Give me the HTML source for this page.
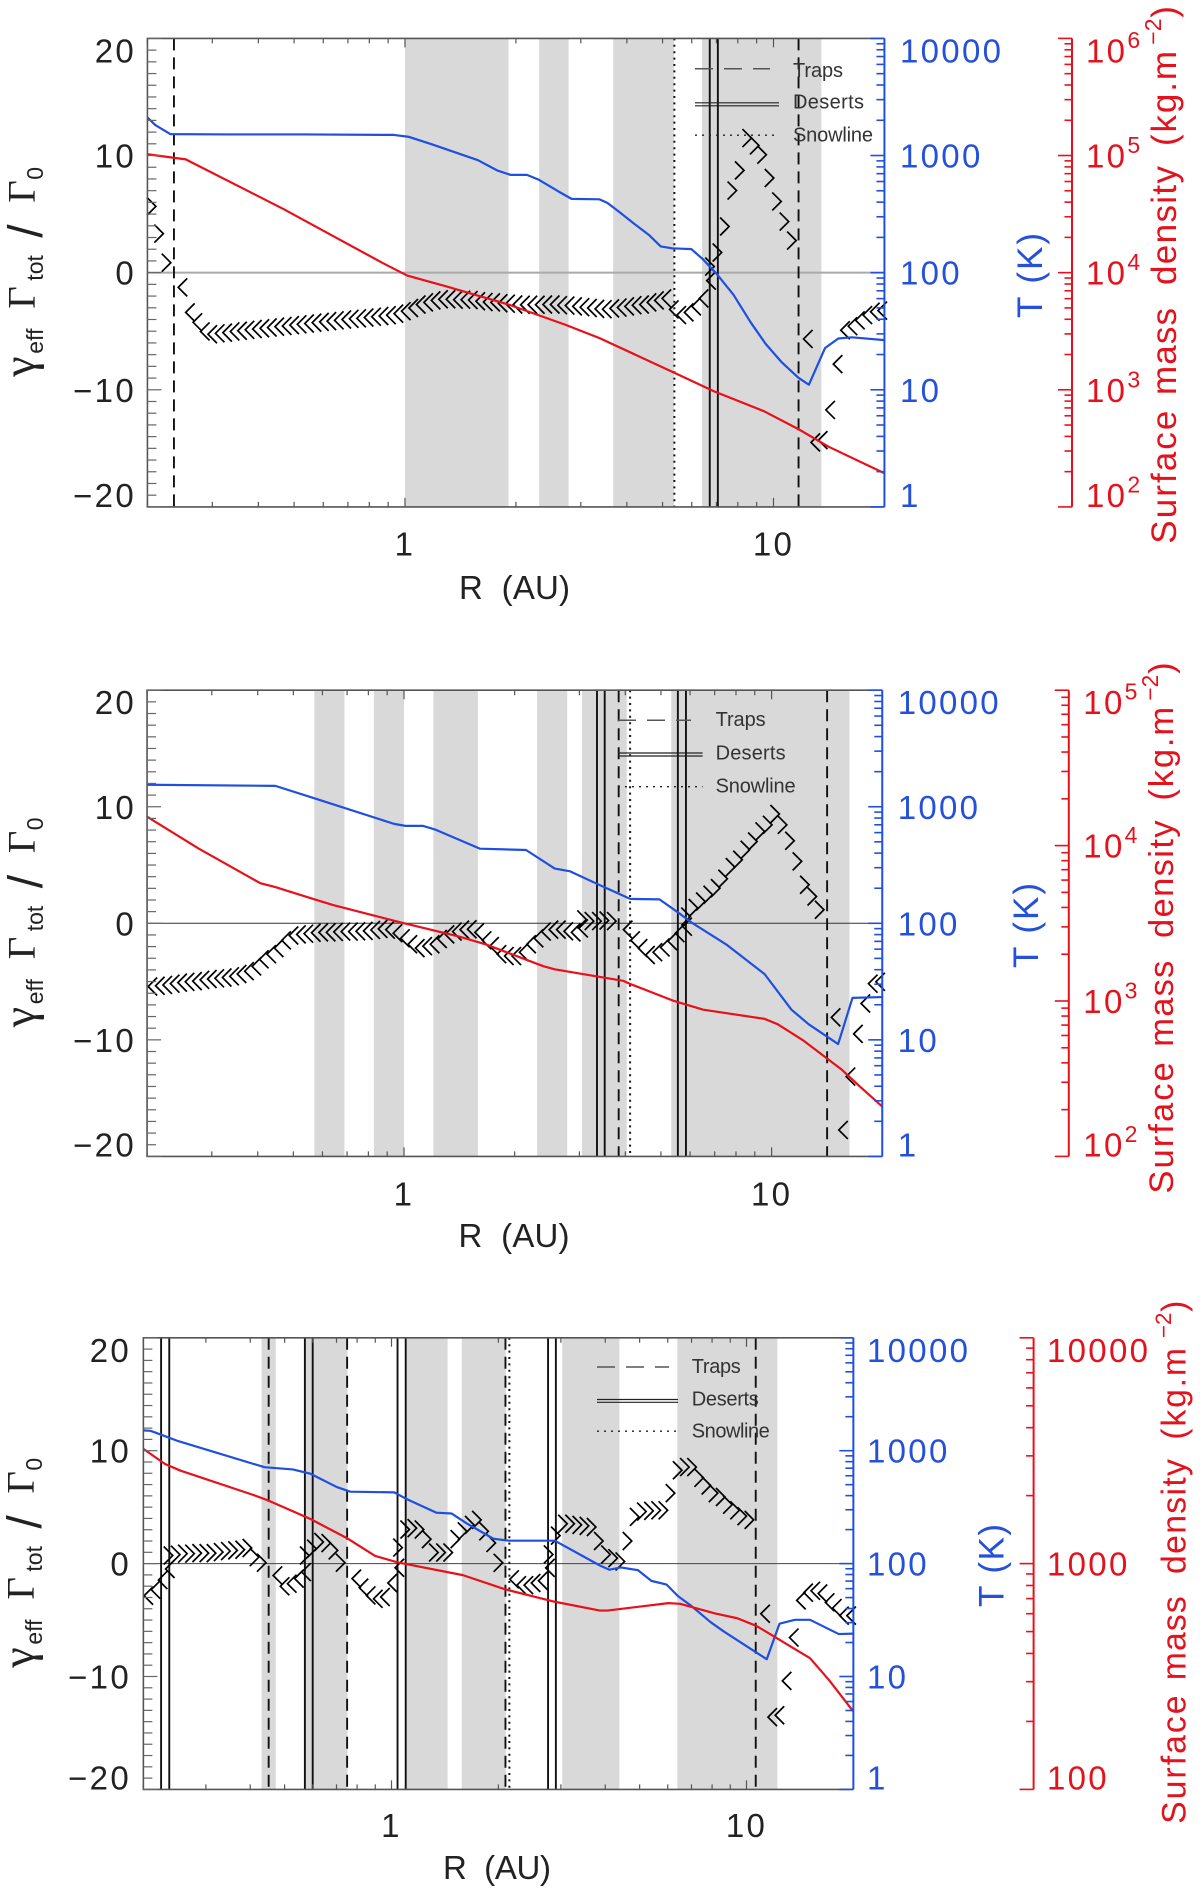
<!DOCTYPE html>
<html>
<head>
<meta charset="utf-8">
<title>Torque maps</title>
<style>
html,body{margin:0;padding:0;background:#fff}
svg{display:block}
text{font-family:"Liberation Sans",sans-serif}
.num{font-size:33px;letter-spacing:2.3px;fill:#222}
.ttl{font-size:33px;fill:#222}
.wrd{font-size:35px}
.leg{font-size:20px;fill:#333}
.gr{font-family:"Liberation Serif",serif;font-size:39px;fill:#222}
.gm{font-family:"Liberation Serif",serif;font-size:46px;fill:#222}
.sl{font-size:48px;fill:#222}
.sub{font-size:23px;fill:#222}
.blue{fill:#2450dc}
.red{fill:#e4121c}
</style>
</head>
<body>
<svg id="chart" width="1200" height="1890" viewBox="0 0 1200 1890" xmlns="http://www.w3.org/2000/svg">
<rect width="1200" height="1890" fill="#fff"/>
<g id="panel-1"></g>
<g id="panel-2"></g>
<g id="panel-3"></g>

<!-- Panel 1 titles and legend -->
<g>
<line x1="695" x2="770" y1="68.8" y2="68.8" stroke="#555" stroke-width="1.5" stroke-dasharray="18 11"/>
<text class="leg" x="793" y="77" textLength="50">Traps</text>
<line x1="695" x2="779" y1="102.8" y2="102.8" stroke="#222" stroke-width="1.2"/>
<line x1="695" x2="779" y1="105.8" y2="105.8" stroke="#222" stroke-width="1.2"/>
<text class="leg" x="793" y="108.7" textLength="71">Deserts</text>
<line x1="695" x2="779" y1="135.2" y2="135.2" stroke="#222" stroke-width="1.3" stroke-dasharray="2 5"/>
<text class="leg" x="793" y="141.6" textLength="80">Snowline</text>
</g>
<text class="ttl" x="459" y="599" textLength="111" xml:space="preserve">R  (AU)</text>
<g transform="translate(34.5,272.7) rotate(-90)">
<text><tspan class="gm" x="-104" y="0">γ</tspan><tspan class="sub" x="-81" y="8.5">eff</tspan><tspan class="gr" x="-36" y="0">Γ</tspan><tspan class="sub" x="-8" y="8.5">tot</tspan><tspan class="sl" x="35" y="7.5">/</tspan><tspan class="gr" x="70" y="0">Γ</tspan><tspan class="sub" x="93" y="8.5">0</tspan></text>
</g>
<text class="ttl wrd blue" transform="translate(1042,318) rotate(-90)" textLength="85">T (K)</text>
<g transform="translate(1176,543.7) rotate(-90)">
<text class="wrd red" x="0" y="0" textLength="133">Surface</text>
<text class="wrd red" x="148.7" y="0" textLength="87">mass</text>
<text class="wrd red" x="258.7" y="0" textLength="119">density</text>
<text class="wrd red" x="397.7" y="0" textLength="95">(kg.m</text>
<text class="sub red" x="499" y="-15">−2</text>
<text class="wrd red" x="526" y="0">)</text>
</g>

<!-- Panel 2 titles and legend -->
<g>
<line x1="618" x2="691" y1="720.3" y2="720.3" stroke="#555" stroke-width="1.5" stroke-dasharray="18 11"/>
<text class="leg" x="715.6" y="726.2" textLength="50">Traps</text>
<line x1="618" x2="702.6" y1="753" y2="753" stroke="#222" stroke-width="1.2"/>
<line x1="618" x2="702.6" y1="756" y2="756" stroke="#222" stroke-width="1.2"/>
<text class="leg" x="715.6" y="759.4" textLength="70">Deserts</text>
<line x1="618" x2="702.6" y1="786.7" y2="786.7" stroke="#222" stroke-width="1.3" stroke-dasharray="2 5"/>
<text class="leg" x="715.6" y="792.6" textLength="80">Snowline</text>
</g>
<text class="ttl" x="458.5" y="1247" textLength="111" xml:space="preserve">R  (AU)</text>
<g transform="translate(34.5,923.3) rotate(-90)">
<text><tspan class="gm" x="-104" y="0">γ</tspan><tspan class="sub" x="-81" y="8.5">eff</tspan><tspan class="gr" x="-36" y="0">Γ</tspan><tspan class="sub" x="-8" y="8.5">tot</tspan><tspan class="sl" x="35" y="7.5">/</tspan><tspan class="gr" x="70" y="0">Γ</tspan><tspan class="sub" x="93" y="8.5">0</tspan></text>
</g>
<text class="ttl wrd blue" transform="translate(1038,968) rotate(-90)" textLength="85">T (K)</text>
<g transform="translate(1173,1193.6) rotate(-90) scale(0.988)">
<text class="wrd red" x="0" y="0" textLength="133">Surface</text>
<text class="wrd red" x="148.7" y="0" textLength="87">mass</text>
<text class="wrd red" x="258.7" y="0" textLength="119">density</text>
<text class="wrd red" x="397.7" y="0" textLength="95">(kg.m</text>
<text class="sub red" x="499" y="-15">−2</text>
<text class="wrd red" x="526" y="0">)</text>
</g>

<!-- Panel 3 titles and legend -->
<g>
<line x1="597" x2="669" y1="1367" y2="1367" stroke="#555" stroke-width="1.5" stroke-dasharray="18 11"/>
<text class="leg" x="691.8" y="1373" textLength="49">Traps</text>
<line x1="597" x2="678" y1="1399.5" y2="1399.5" stroke="#222" stroke-width="1.2"/>
<line x1="597" x2="678" y1="1402.3" y2="1402.3" stroke="#222" stroke-width="1.2"/>
<text class="leg" x="691.8" y="1405.6" textLength="67">Deserts</text>
<line x1="597" x2="678" y1="1431.2" y2="1431.2" stroke="#222" stroke-width="1.3" stroke-dasharray="2 5"/>
<text class="leg" x="691.8" y="1437.3" textLength="78">Snowline</text>
</g>
<text class="ttl" x="443" y="1879" textLength="108" xml:space="preserve">R  (AU)</text>
<g transform="translate(33.7,1563.6) rotate(-90)">
<text><tspan class="gm" x="-104" y="0">γ</tspan><tspan class="sub" x="-81" y="8.5">eff</tspan><tspan class="gr" x="-36" y="0">Γ</tspan><tspan class="sub" x="-8" y="8.5">tot</tspan><tspan class="sl" x="35" y="7.5">/</tspan><tspan class="gr" x="70" y="0">Γ</tspan><tspan class="sub" x="93" y="8.5">0</tspan></text>
</g>
<text class="ttl wrd blue" transform="translate(1003.7,1607) rotate(-90)" textLength="83">T (K)</text>
<g transform="translate(1185.5,1823.9) rotate(-90) scale(0.966)">
<text class="wrd red" x="0" y="0" textLength="133">Surface</text>
<text class="wrd red" x="148.7" y="0" textLength="87">mass</text>
<text class="wrd red" x="258.7" y="0" textLength="119">density</text>
<text class="wrd red" x="397.7" y="0" textLength="95">(kg.m</text>
<text class="sub red" x="503" y="-15">−2</text>
<text class="wrd red" x="530" y="0">)</text>
</g>
</svg>

<script>
// ---- shared tick values ----
const gammaTickValues = [20, 10, 0, -10, -20];
const gammaTickLabels = ['20', '10', '0', '−10', '−20'];
const temperatureTickExponents = [0, 1, 2, 3, 4];
const temperatureTickLabels = ['1', '10', '100', '1000', '10000'];
const radiusMajorLogs = [0, 1];
const radiusMajorLabels = ['1', '10'];

// ---- panel 1 data ----
const p1TempLogR = [-0.699,-0.678,-0.637,-0.476,-0.269,-0.03,0.011,0.074,0.198,0.25,0.286,0.331,0.364,0.416,0.452,0.528,0.549,0.58,0.621,0.663,0.694,0.725,0.777,0.808,0.845,0.891,0.938,0.979,1.021,1.067,1.096,1.14,1.176,1.213,1.301];
const p1TempLogK = [3.325,3.261,3.183,3.18,3.18,3.176,3.159,3.095,2.96,2.873,2.835,2.835,2.792,2.694,2.63,2.626,2.596,2.522,2.42,2.319,2.224,2.208,2.201,2.116,1.992,1.813,1.576,1.391,1.239,1.104,1.043,1.357,1.438,1.448,1.424];
const p1SigmaLogR = [-0.699,-0.595,-0.331,-0.061,0.006,0.115,0.281,0.437,0.528,0.725,0.839,0.974,1.067,1.15,1.301];
const p1SigmaLog = [5.011,4.967,4.545,4.083,3.975,3.88,3.728,3.553,3.441,3.154,2.986,2.817,2.665,2.513,2.287];
const p1Gamma = [5.66,3.33,0.85,-1.26,-3.39,-4.24,-5.02,-5.26,-5.18,-5.12,
-5.02,-4.96,-4.88,-4.81,-4.75,-4.68,-4.61,-4.55,-4.48,-4.41,
-4.34,-4.27,-4.2,-4.14,-4.07,-4,-3.94,-3.9,-3.83,-3.76,
-3.7,-3.63,-3.5,-3.29,-3.02,-2.72,-2.54,-2.37,-2.27,-2.27,
-2.31,-2.31,-2.34,-2.44,-2.51,-2.54,-2.61,-2.65,-2.72,-2.74,
-2.74,-2.74,-2.72,-2.72,-2.78,-2.81,-2.88,-2.95,-3.02,-3.09,
-3.12,-3.05,-2.98,-2.88,-2.78,-2.72,-2.54,-2.37,-2.2,-3.14,
-3.62,-3.39,-2.88,-2.2,-0.68,0.52,1.72,3.94,7.01,8.73,
11.49,10.86,10.07,8.08,6.08,4.36,2.74,-5.66,-14.49,-14.3,
-11.72,-7.81,-4.92,-4.57,-4.07,-3.62,-3.34,-3.24];
const p1BandStart = [0,0.364,0.565,0.806];
const p1BandEnd = [0.281,0.444,0.73,1.13];
const p1Traps = [-0.627,1.068];
const p1Deserts = [0.827,0.849];
const p1Snowline = [0.731];
const p1SigmaExponents = [2,3,4,5,6];

// ---- panel 2 data ----
const p2TempLogR = [-0.699,-0.35,-0.235,-0.027,0.004,0.051,0.087,0.207,0.332,0.41,0.452,0.533,0.616,0.695,0.747,0.783,0.877,0.981,1.054,1.101,1.181,1.22,1.301];
const p2TempLogK = [3.189,3.179,3.064,2.853,2.836,2.836,2.802,2.64,2.629,2.47,2.446,2.327,2.209,2.205,2.09,2.005,1.818,1.564,1.259,1.133,0.964,1.36,1.367];
const p2SigmaLogR = [-0.699,-0.558,-0.391,-0.35,-0.246,-0.194,-0.006,0.15,0.223,0.379,0.41,0.533,0.596,0.616,0.731,0.814,0.981,1.017,1.085,1.189,1.241,1.301];
const p2SigmaLog = [4.186,3.98,3.758,3.733,3.656,3.618,3.504,3.415,3.364,3.224,3.204,3.155,3.13,3.109,3.003,2.944,2.885,2.85,2.748,2.562,2.448,2.321];
const p2Gamma = [-5.42,-5.36,-5.29,-5.18,-5.09,-5.02,-4.96,-4.85,-4.78,-4.72,
-4.65,-4.55,-4.35,-4.11,-3.7,-3.09,-2.65,-2.13,-1.46,-1.05,
-0.95,-0.89,-0.81,-0.78,-0.78,-0.74,-0.71,-0.71,-0.68,-0.65,
-0.57,-0.48,-0.54,-0.85,-1.29,-1.8,-2.13,-1.96,-1.8,-1.35,
-0.95,-0.71,-0.54,-0.51,-0.78,-1.46,-1.96,-2.65,-2.81,-2.81,
-2.48,-1.8,-1.29,-0.71,-0.54,-0.54,-0.68,-0.78,-0.44,0.33,
0.19,0.19,0.24,0.19,-0.54,-1.46,-2.13,-2.72,-2.48,-2.07,
-1.53,-0.85,-0.29,0.58,1.31,1.87,2.45,3.02,3.82,4.82,
5.45,6.31,7.02,7.88,8.45,9.38,8.45,7.08,5.31,3.31,
2.3,1.16,-8.07,-17.73,-13.15,-9.49,-6.88,-5.18,-5.02];
const p2BandStart = [-0.244,-0.082,0.08,0.362,0.484,0.727];
const p2BandEnd = [-0.162,0,0.201,0.444,0.606,1.212];
const p2Traps = [0.584,1.151];
const p2Deserts = [0.525,0.546,0.745,0.767];
const p2Snowline = [0.615];
const p2SigmaExponents = [2,3,4,5];

// ---- panel 3 data ----
const p3TempLogR = [-0.699,-0.679,-0.649,-0.601,-0.358,-0.278,-0.229,-0.154,-0.116,0.008,0.04,0.126,0.169,0.212,0.287,0.33,0.46,0.587,0.614,0.646,0.694,0.732,0.775,0.807,0.845,0.899,0.937,1.057,1.093,1.136,1.179,1.26,1.301];
const p3TempLogK = [3.18,3.176,3.142,3.085,2.854,2.834,2.797,2.678,2.637,2.631,2.576,2.451,2.444,2.356,2.22,2.203,2.203,1.983,1.946,1.966,1.942,1.847,1.814,1.712,1.624,1.481,1.397,1.153,1.468,1.502,1.502,1.376,1.38];
const p3SigmaLogR = [-0.699,-0.638,-0.595,-0.391,-0.348,-0.229,-0.127,-0.046,0.018,0.201,0.32,0.46,0.587,0.608,0.78,0.813,0.91,0.974,1.028,1.082,1.179,1.233,1.3];
const p3SigmaLog = [3.508,3.441,3.412,3.305,3.28,3.198,3.114,3.034,3.005,2.949,2.886,2.831,2.792,2.792,2.825,2.822,2.78,2.758,2.724,2.673,2.581,2.483,2.347];
const p3Gamma = [-2.85,-2.31,-1.46,-0.48,0.72,0.79,0.88,0.88,0.93,0.93,
0.93,1.02,1.11,1.17,1.23,1.38,0.57,0.08,-1.05,-2.01,
-1.78,-1.33,-0.75,0.72,1.32,1.91,1.82,1.17,0.08,-1.33,
-2.13,-2.82,-3.12,-2.96,-1.72,-0.37,1.42,3.02,3.14,3.02,
2.17,0.98,0.98,0.98,2.17,2.86,3.43,3.87,2.86,1.83,
0.07,-1.39,-1.91,-1.91,-1.72,-1.52,-0.38,0.81,2.48,3.53,
3.53,3.43,3.34,3.24,2,0.81,0.48,0.19,2,4.14,
4.61,4.67,4.72,4.72,6.24,8.27,8.55,8.55,7.6,6.92,
6.24,5.9,5.22,4.72,4.2,3.87,-4.44,-13.6,-13.43,-10.39,
-6.55,-3.26,-2.57,-2.41,-2.65,-3.43,-3.94,-4.61,-4.61];
const p3BandStart = [-0.366,-0.245,0.04,0.198,0.481,0.805];
const p3BandEnd = [-0.326,-0.124,0.158,0.322,0.642,1.087];
const p3Traps = [-0.346,-0.125,0.321,1.026];
const p3Deserts = [-0.649,-0.626,-0.244,-0.222,0.017,0.04,0.441,0.463];
const p3Snowline = [0.332];
const p3SigmaExponents = [2,3,4];

const NS = 'http://www.w3.org/2000/svg';
const BLUE = '#1f4fe0', RED = '#e8101a', FRAME = '#555';

function make(tag, parent, attrs) {
  const e = document.createElementNS(NS, tag);
  for (const k in attrs) e.setAttribute(k, attrs[k]);
  parent.appendChild(e);
  return e;
}

function drawPanel(root, L, d) {
  const H = L.bottom - L.top;
  const mid = (L.top + L.bottom) / 2;
  const xScale = v => L.x1 + L.decade * v;
  const yGamma = v => mid - v / 40 * H;
  const yTemp = v => L.bottom - v / 4 * H;
  const yDens = v => L.bottom - (v - L.sigmaMin) / (L.sigmaMax - L.sigmaMin) * H;
  const left = xScale(Math.log10(0.2));
  const right = xScale(Math.log10(20));

  d.bandStart.forEach((s, i) => {
    const band = make('rect', root, {x: xScale(s), y: L.top, width: xScale(d.bandEnd[i]) - xScale(s), height: H, fill: '#d9d9d9'});
    
    
  });

  const zero = make('line', root, {x1: left, x2: right, y1: yGamma(0), y2: yGamma(0), stroke: L.zeroColor, 'stroke-width': L.zeroWidth});
  
  

  d.traps.forEach(v => {
    const l = make('line', root, {x1: xScale(v), x2: xScale(v), y1: L.top, y2: L.bottom, stroke: '#111', 'stroke-width': 1.9, 'stroke-dasharray': '12 7'});
    
    
  });
  d.deserts.forEach(v => {
    const l = make('line', root, {x1: xScale(v), x2: xScale(v), y1: L.top, y2: L.bottom, stroke: '#111', 'stroke-width': 1.9});
    
    
  });
  d.snowline.forEach(v => {
    const l = make('line', root, {x1: xScale(v), x2: xScale(v), y1: L.top, y2: L.bottom, stroke: '#111', 'stroke-width': 2, 'stroke-dasharray': '2 4.4'});
    
    
  });

  d.gamma.forEach((g, i) => {
    const x = xScale(L.gridStart + i * 2 / 99);
    const y = yGamma(g);
    const dir = g < 0 ? 1 : -1;
    const m = make('polyline', root, {points: (x + dir * 9) + ',' + (y - 9) + ' ' + x + ',' + y + ' ' + (x + dir * 9) + ',' + (y + 9), fill: 'none', stroke: '#000', 'stroke-width': 1.7});
    
    
  });

  const tempPts = d.tempLogR.map((r, i) => xScale(r) + ',' + yTemp(d.tempLogK[i])).join(' ');
  const tempLine = make('polyline', root, {points: tempPts, fill: 'none', stroke: BLUE, 'stroke-width': 2.2, 'stroke-linejoin': 'round'});
  
  

  const densPts = d.sigmaLogR.map((r, i) => xScale(r) + ',' + yDens(d.sigmaLog[i])).join(' ');
  const densLine = make('polyline', root, {points: densPts, fill: 'none', stroke: RED, 'stroke-width': 2.2, 'stroke-linejoin': 'round'});
  
  

  // frame: left, top, bottom in dark grey
  const frame = make('path', root, {d: 'M' + right + ' ' + L.top + 'H' + left + 'V' + L.bottom + 'H' + right, fill: 'none', stroke: FRAME, 'stroke-width': 1.6});
  
  

  // radius ticks
  for (let n = -1; n <= 1; n++) {
    for (let k = 1; k <= 9; k++) {
      const lv = n + Math.log10(k);
      if (lv < Math.log10(0.2) - 1e-6 || lv > Math.log10(20) + 1e-6) continue;
      const len = k === 1 ? 9 : 5;
      const tb = make('path', root, {d: 'M' + xScale(lv) + ' ' + L.bottom + 'v' + (-len) + 'M' + xScale(lv) + ' ' + L.top + 'v' + len, stroke: FRAME, 'stroke-width': 1.2, fill: 'none'});
      
      
    }
  }
  radiusMajorLogs.forEach((v, i) => {
    const t = make('text', root, {x: xScale(v), y: L.xLabelY, 'text-anchor': 'middle', class: 'num'});
    t.textContent = radiusMajorLabels[i];
    
    
  });

  // gamma ticks
  for (let g = -20; g <= 20; g++) {
    const len = g % 10 === 0 ? 14 : 9;
    const tk = make('line', root, {x1: left, x2: left + len, y1: yGamma(g), y2: yGamma(g), stroke: '#666', 'stroke-width': 1.2});
    
    
  }
  const clampBase = y => y <= L.top + 1 ? y + 24 : (y >= L.bottom - 1 ? y : y + 12);
  gammaTickValues.forEach((v, i) => {
    const y = yGamma(v);
    const t = make('text', root, {x: L.gammaLabelX, y: clampBase(y), 'text-anchor': 'end', class: 'num'});
    t.textContent = gammaTickLabels[i];
    
    
  });

  // temperature axis
  const tSpine = make('line', root, {x1: right, x2: right, y1: L.top, y2: L.bottom, stroke: BLUE, 'stroke-width': 2});
  
  
  temperatureTickExponents.forEach((e, i) => {
    for (let k = 1; k <= 9 && (e < 4 || k === 1); k++) {
      const y = yTemp(e + Math.log10(k));
      const len = k === 1 ? 14 : 8;
      const tk = make('line', root, {x1: right - len, x2: right, y1: y, y2: y, stroke: BLUE, 'stroke-width': 1.6});
      
      
    }
    const t = make('text', root, {x: L.tempLabelX, y: clampBase(yTemp(e)), class: 'num blue'});
    t.textContent = temperatureTickLabels[i];
    
    
  });

  // density axis
  const sSpine = make('line', root, {x1: L.sigmaAxisX, x2: L.sigmaAxisX, y1: L.top, y2: L.bottom, stroke: RED, 'stroke-width': 2});
  
  
  d.sigmaExponents.forEach(e => {
    for (let k = 1; k <= 9 && (e < L.sigmaMax || k === 1); k++) {
      const y = yDens(e + Math.log10(k));
      const len = k === 1 ? 14 : 7.5;
      const tk = make('line', root, {x1: L.sigmaAxisX - len, x2: L.sigmaAxisX, y1: y, y2: y, stroke: RED, 'stroke-width': 1.6});
      
      
    }
    const t = make('text', root, {x: L.sigmaLabelX, y: clampBase(yDens(e)), class: 'num red'});
    if (L.sigmaPlain) {
      t.textContent = String(Math.pow(10, e));
    } else {
      t.textContent = '10';
      const sup = make('tspan', t, {dy: -14.5, style: 'font-size:23px'});
      sup.textContent = String(e);
    }
    
    
  });
}

drawPanel(document.getElementById('panel-1'),
  {x1: 405, decade: 368.5, top: 38.4, bottom: 506.9, gridStart: -0.676, sigmaMin: 2, sigmaMax: 6, sigmaAxisX: 1072, gammaLabelX: 136, tempLabelX: 900, sigmaLabelX: 1086, xLabelY: 555.5, zeroColor: '#aaa', zeroWidth: 2},
  {tempLogR: p1TempLogR, tempLogK: p1TempLogK, sigmaLogR: p1SigmaLogR, sigmaLog: p1SigmaLog, gamma: p1Gamma, bandStart: p1BandStart, bandEnd: p1BandEnd, traps: p1Traps, deserts: p1Deserts, snowline: p1Snowline, sigmaExponents: p1SigmaExponents});

drawPanel(document.getElementById('panel-2'),
  {x1: 404, decade: 367.6, top: 690.2, bottom: 1156.4, gridStart: -0.696, sigmaMin: 2, sigmaMax: 5, sigmaAxisX: 1068.8, gammaLabelX: 136, tempLabelX: 897.7, sigmaLabelX: 1083.3, xLabelY: 1205.4, zeroColor: '#333', zeroWidth: 1},
  {tempLogR: p2TempLogR, tempLogK: p2TempLogK, sigmaLogR: p2SigmaLogR, sigmaLog: p2SigmaLog, gamma: p2Gamma, bandStart: p2BandStart, bandEnd: p2BandEnd, traps: p2Traps, deserts: p2Deserts, snowline: p2Snowline, sigmaExponents: p2SigmaExponents});

drawPanel(document.getElementById('panel-3'),
  {x1: 391.5, decade: 355, top: 1337.8, bottom: 1789.4, gridStart: -0.697, sigmaMin: 2, sigmaMax: 4, sigmaAxisX: 1033.6, gammaLabelX: 131, tempLabelX: 867, sigmaLabelX: 1047, xLabelY: 1837, zeroColor: '#444', zeroWidth: 1, sigmaPlain: true},
  {tempLogR: p3TempLogR, tempLogK: p3TempLogK, sigmaLogR: p3SigmaLogR, sigmaLog: p3SigmaLog, gamma: p3Gamma, bandStart: p3BandStart, bandEnd: p3BandEnd, traps: p3Traps, deserts: p3Deserts, snowline: p3Snowline, sigmaExponents: p3SigmaExponents});
</script>
</body>
</html>
